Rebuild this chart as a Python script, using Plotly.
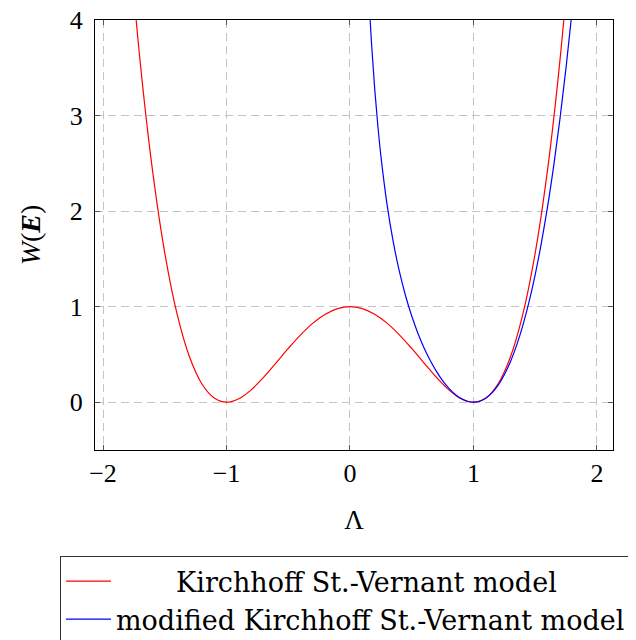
import plotly.graph_objects as go

# ---- data ----
lam_ksv = [-1.8, -1.7, -1.6, -1.5, -1.4, -1.3, -1.2, -1.1, -1.0, -0.9, -0.8, -0.7, -0.6,
           -0.5, -0.4, -0.3, -0.2, -0.1, 0.0, 0.1, 0.2, 0.3, 0.4, 0.5, 0.6, 0.7, 0.8,
           0.9, 1.0, 1.1, 1.2, 1.3, 1.4, 1.5, 1.6, 1.7, 1.8]
w_ksv = [5.0176, 3.5721, 2.4336, 1.5625, 0.9216, 0.4761, 0.1936, 0.0441, 0.0, 0.0361,
         0.1296, 0.2601, 0.4096, 0.5625, 0.7056, 0.8281, 0.9216, 0.9801, 1.0, 0.9801,
         0.9216, 0.8281, 0.7056, 0.5625, 0.4096, 0.2601, 0.1296, 0.0361, 0.0, 0.0441,
         0.1936, 0.4761, 0.9216, 1.5625, 2.4336, 3.5721, 5.0176]

lam_mksv = [0.14, 0.15, 0.175, 0.2, 0.225, 0.25, 0.3, 0.35, 0.4, 0.45, 0.5, 0.55, 0.6,
            0.65, 0.7, 0.75, 0.8, 0.85, 0.9, 0.95, 1.0, 1.05, 1.1, 1.15, 1.2, 1.25,
            1.3, 1.35, 1.4, 1.45, 1.5, 1.55, 1.6, 1.65, 1.7, 1.75, 1.8, 1.85]
w_mksv = [4.587, 4.316, 3.743, 3.2815, 2.901, 2.581, 2.0707, 1.6796, 1.3688, 1.1146,
          0.9024, 0.7223, 0.5681, 0.4357, 0.3223, 0.2263, 0.1470, 0.0842, 0.0382,
          0.0098, 0.0, 0.0103, 0.0422, 0.0975, 0.1784, 0.2871, 0.4259, 0.5975, 0.8044,
          1.0497, 1.3363, 1.6674, 2.0461, 2.4761, 2.9607, 3.5036, 4.1087, 4.78]

name_ksv = "Kirchhoff St.-Vernant model"
name_mksv = "modified Kirchhoff St.-Vernant model"

x_ticks = [-2, -1, 0, 1, 2]
y_ticks = [0, 1, 2, 3, 4]
x_title = "Λ"
y_title = "<i>W</i>(<b><i>E</i></b>)"

# ---- figure ----
fig = go.Figure()
fig.add_trace(go.Scatter(x=lam_ksv, y=w_ksv, mode="lines",
                         line=dict(color="#ff0000", width=1.2, shape="spline"),
                         name="\u00a0" * 7 + name_ksv))
fig.add_trace(go.Scatter(x=lam_mksv, y=w_mksv, mode="lines",
                         line=dict(color="#0000ff", width=1.2, shape="spline"),
                         name=name_mksv))

axis_common = dict(
    showline=True, linecolor="black", linewidth=1, mirror="ticks",
    ticks="inside", ticklen=5, tickwidth=1, tickcolor="#555555",
    showgrid=True, gridcolor="#c4c4c4", gridwidth=1, griddash="8px,5px",
    zeroline=False, ticklabeloverflow="allow",
    tickfont=dict(size=26, family="Liberation Serif", color="black"),
)

fig.update_xaxes(range=[-2.065, 2.13], tickvals=x_ticks,
                 title=dict(text=x_title, font=dict(size=27), standoff=22),
                 **axis_common)
fig.update_yaxes(range=[-0.5, 4], tickvals=y_ticks, ticklabelstandoff=6,
                 title=dict(text=y_title, font=dict(size=28), standoff=20),
                 **axis_common)

# the page adds an 8px body margin, so the figure is 628x632 and offset accordingly
fig.update_layout(
    width=628, height=632,
    margin=dict(l=87, r=23, t=12, b=190, autoexpand=False),
    plot_bgcolor="white", paper_bgcolor="white",
    font=dict(family="Liberation Serif", color="black"),
    legend=dict(x=-35 / 518, y=-106 / 430, xanchor="left", yanchor="top",
                bordercolor="#333333", borderwidth=1, bgcolor="white",
                font=dict(size=27, family="DejaVu Serif"),
                itemwidth=45, tracegroupgap=0),
    showlegend=True,
)

fig.write_html("out.html")
